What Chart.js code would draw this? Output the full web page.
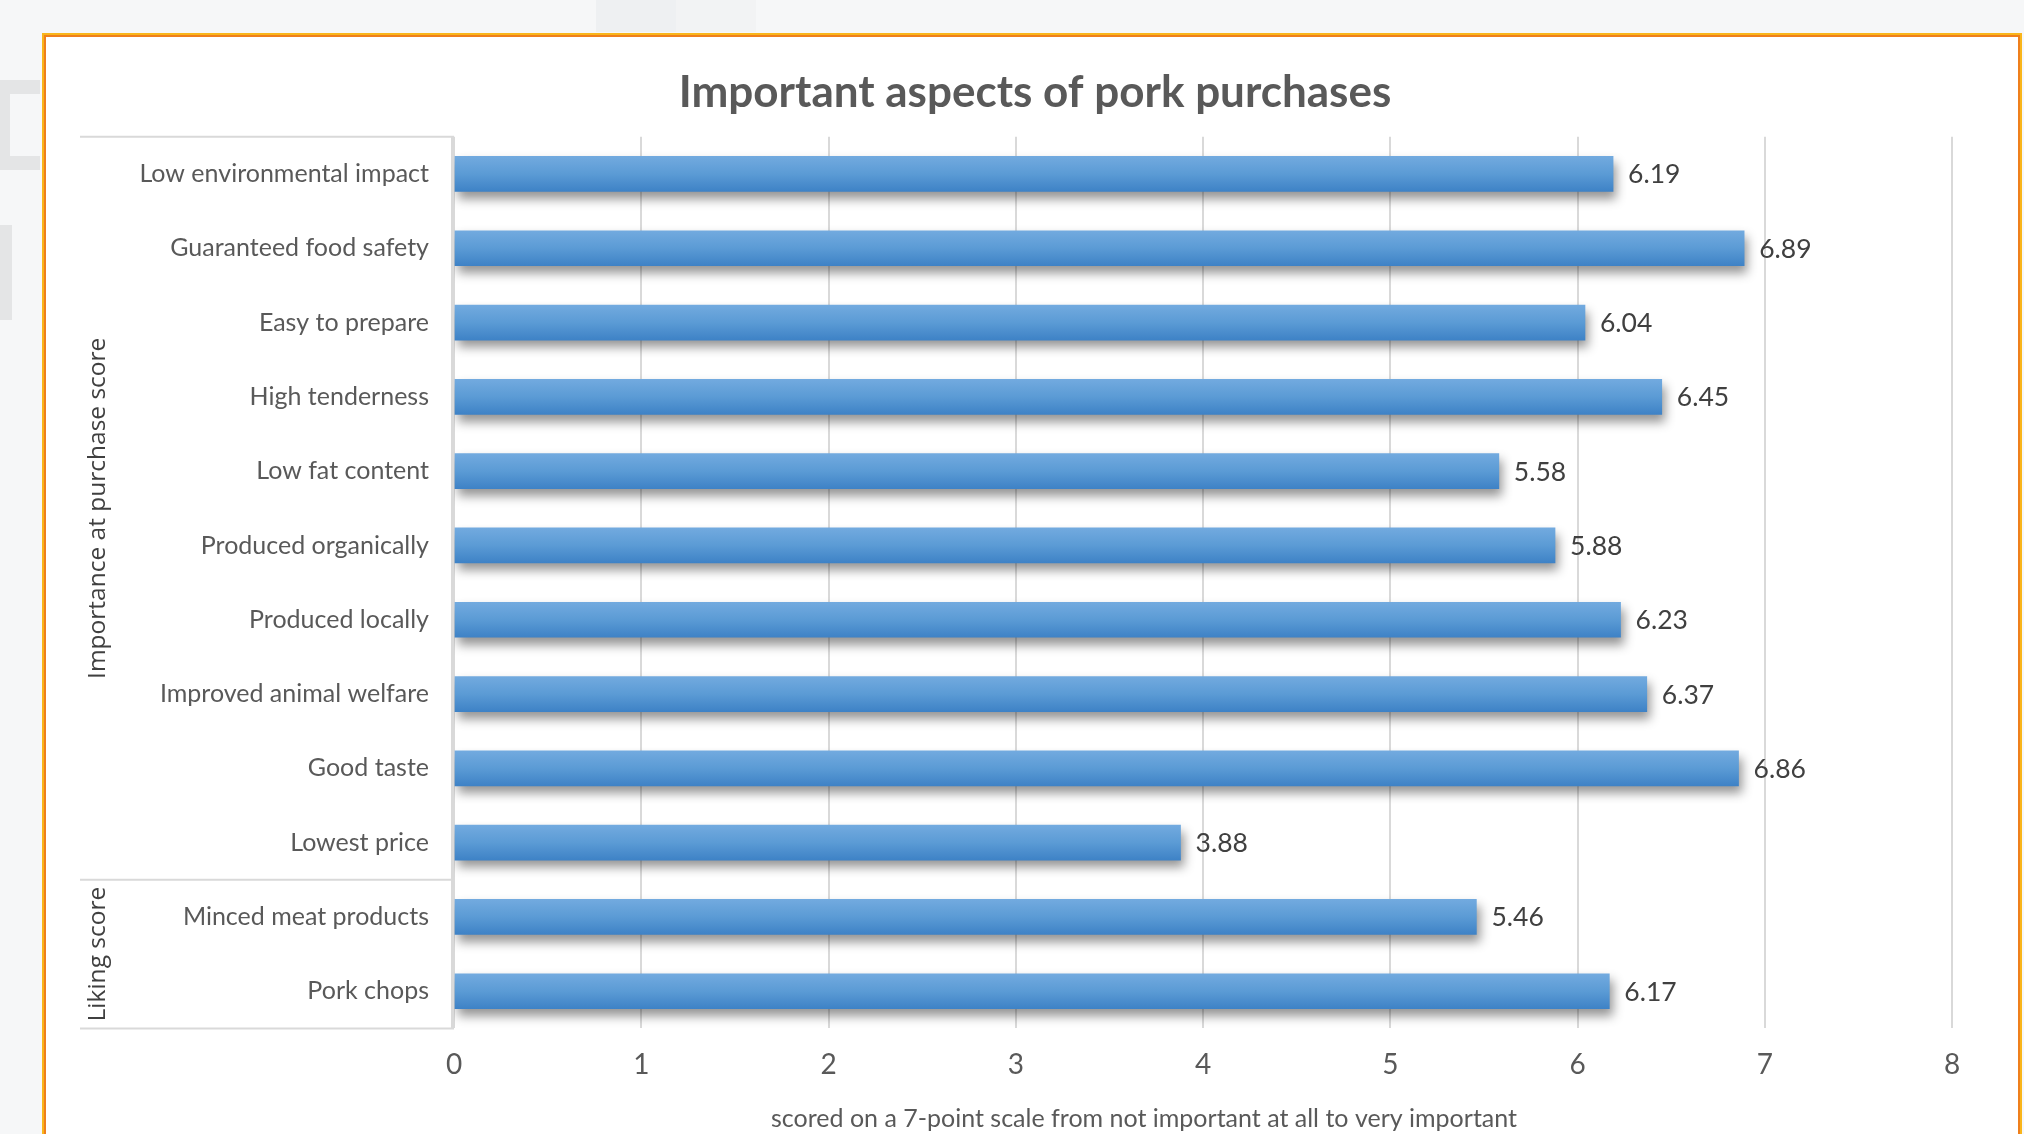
<!DOCTYPE html>
<html>
<head>
<meta charset="utf-8">
<script src="https://cdn.jsdelivr.net/npm/chart.js@4.4.1/dist/chart.umd.min.js"></script>
<style>
html, body { margin: 0; padding: 0; }
body { width: 2024px; height: 1134px; background: #f6f7f8; position: relative; overflow: hidden; }
.ghost { position: absolute; background: #e4e5e6; }
#frame { position: absolute; left: 42px; top: 33px; width: 1976px; height: 1200px; background: #fff;
         border: 2px solid #f9b51b; box-shadow: inset 0 0 0 2px #ef7f1c; }
#chart { position: absolute; left: 0; top: 0; }
</style>
</head>
<body>
<div class="ghost" style="left:0;top:80px;width:40px;height:14px;"></div>
<div class="ghost" style="left:0;top:80px;width:10px;height:90px;"></div>
<div class="ghost" style="left:0;top:156px;width:40px;height:14px;"></div>
<div class="ghost" style="left:0;top:225px;width:12px;height:95px;"></div>
<div class="ghost" style="left:596px;top:0;width:80px;height:32px;background:#eef0f2;"></div>
<div class="ghost" style="left:676px;top:0;width:80px;height:32px;background:#f2f3f4;"></div>
<div id="frame"></div>
<canvas id="chart" width="2024" height="1134"></canvas>
<script>
const ctx = document.getElementById('chart').getContext('2d');

// data
const categories = [
    'Low environmental impact', 'Guaranteed food safety', 'Easy to prepare',
    'High tenderness', 'Low fat content', 'Produced organically', 'Produced locally',
    'Improved animal welfare', 'Good taste', 'Lowest price',
    'Minced meat products', 'Pork chops'
];
const scores = [6.19, 6.89, 6.04, 6.45, 5.58, 5.88, 6.23, 6.37, 6.86, 3.88, 5.46, 6.17];

const groupLabels = ['Importance at purchase score', 'Liking score'];
const groupFirst = [0, 10];
const groupLast = [9, 11];

const xMin = 0;
const xMax = 8;

const chartTitle = 'Important aspects of pork purchases';
const axisTitle = 'scored on a 7-point scale from not important at all to very important';

const FONT = "Lato, 'Open Sans', sans-serif";
const BAR_H = 35;

// gradient for each bar, placed by the y scale
function barFill(c) {
    const y = c.chart.scales.y;
    if (!y) return '#5B9BD5';
    const py = y.getPixelForValue(c.dataIndex);
    if (!Number.isFinite(py)) return '#5B9BD5';
    const g = c.chart.ctx.createLinearGradient(0, py - BAR_H / 2, 0, py + BAR_H / 2);
    g.addColorStop(0, '#72AADF');
    g.addColorStop(0.5, '#5B9BD5');
    g.addColorStop(1, '#3E82C6');
    return g;
}

const barShadow = {
    id: 'barShadow',
    beforeDatasetsDraw(chart) {
        const c = chart.ctx;
        c.save();
        c.shadowColor = 'rgba(0,0,0,0.42)';
        c.shadowBlur = 10;
        c.shadowOffsetX = 3;
        c.shadowOffsetY = 7;
    },
    afterDatasetsDraw(chart) {
        const c = chart.ctx;
        c.restore();
        // value labels
        const meta = chart.getDatasetMeta(0);
        c.save();
        c.font = '26.5px ' + FONT;
        c.fillStyle = '#404040';
        c.textAlign = 'left';
        c.textBaseline = 'middle';
        meta.data.forEach((bar, i) => {
            c.fillText(scores[i].toFixed(2), bar.x + 15, bar.y + 1);
        });
        c.restore();
    }
};

const groupTable = {
    id: 'groupTable',
    afterDraw(chart) {
        const c = chart.ctx;
        const y = chart.scales.y;
        const area = chart.chartArea;
        const left = 80;
        c.save();
        c.strokeStyle = '#d9d9d9';
        c.lineWidth = 2;
        const rows = [area.top, (y.getPixelForValue(9) + y.getPixelForValue(10)) / 2, area.bottom];
        rows.forEach(r => {
            c.beginPath();
            c.moveTo(left, r);
            c.lineTo(area.left, r);
            c.stroke();
        });
        c.beginPath();
        c.moveTo(area.left - 2, area.top);
        c.lineTo(area.left - 2, area.bottom);
        c.stroke();

        c.font = "24.5px 'Open Sans', sans-serif";
        c.fillStyle = '#404040';
        c.textAlign = 'center';
        c.textBaseline = 'middle';
        groupLabels.forEach((lab, i) => {
            const mid = (y.getPixelForValue(groupFirst[i]) + y.getPixelForValue(groupLast[i])) / 2;
            c.save();
            c.translate(98, mid);
            c.rotate(-Math.PI / 2);
            c.fillText(lab, 0, 0);
            c.restore();
        });

        c.font = '25px ' + FONT;
        c.fillStyle = '#595959';
        c.fillText(axisTitle, 1144, 1119);
        c.restore();
    }
};

new Chart(ctx, {
    type: 'bar',
    data: {
        labels: categories,
        datasets: [{
            data: scores,
            backgroundColor: barFill,
            borderWidth: 0,
            barThickness: BAR_H
        }]
    },
    options: {
        indexAxis: 'y',
        responsive: false,
        animation: false,
        layout: { padding: { left: 118, right: 72, top: 0, bottom: 32 } },
        plugins: {
            legend: { display: false },
            tooltip: { enabled: false },
            title: {
                display: true,
                text: chartTitle,
                color: '#595959',
                font: { family: FONT, size: 44, weight: 'bold' },
                padding: { top: 66, bottom: 18 }
            }
        },
        scales: {
            x: {
                min: xMin,
                max: xMax,
                ticks: { stepSize: 1, color: '#595959', font: { family: FONT, size: 28 }, padding: 20 },
                grid: { color: '#d9d9d9', lineWidth: 2, drawTicks: false },
                border: { display: false }
            },
            y: {
                ticks: { color: '#595959', font: { family: FONT, size: 25 }, padding: 25 },
                grid: { display: false, drawTicks: false },
                border: { display: false },
                afterFit(scale) { scale.width = 336; }
            }
        }
    },
    plugins: [barShadow, groupTable]
});
</script>
</body>
</html>
